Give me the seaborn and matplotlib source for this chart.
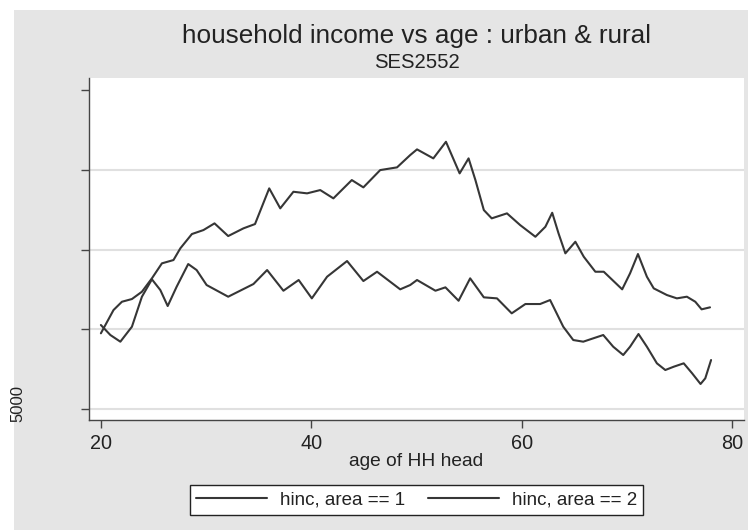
import matplotlib
matplotlib.use("Agg")
import matplotlib.pyplot as plt
import seaborn as sns
import pandas as pd
from matplotlib.patches import Rectangle

# ---- data ----
age_area1 = [20.0, 21.2, 22.0, 22.95, 23.9, 24.85, 25.8, 26.9, 27.55, 28.65, 29.75, 30.8,
             32.1, 33.55, 34.65, 36.0, 37.05, 38.3, 39.6, 40.85, 42.1, 43.85, 44.95, 46.55,
             48.15, 49.4, 50.05, 51.6, 52.8, 54.1, 54.95, 55.6, 56.4, 57.15, 58.6, 59.85,
             61.3, 62.25, 62.9, 63.5, 64.15, 65.1, 65.9, 67.0, 67.8, 69.55, 70.3, 71.05,
             71.9, 72.55, 73.8, 74.75, 75.7, 76.5, 77.1, 77.9]
hinc_area1 = [9747, 11207, 11727, 11897, 12355, 13195, 14135, 14342, 15076, 15973, 16223, 16643,
              15847, 16330, 16600, 18838, 17584, 18625, 18525, 18731, 18211, 19358, 18900, 19985,
              20155, 20926, 21283, 20719, 21760, 19778, 20719, 19358, 17477, 16957, 17270, 16537,
              15803, 16430, 17308, 16016, 14762, 15490, 14549, 13609, 13609, 12505, 13509, 14719,
              13296, 12566, 12148, 11939, 12043, 11727, 11251, 11376]

age_area2 = [20.0, 20.9, 21.85, 22.95, 23.9, 24.85, 25.65, 26.35, 27.2, 28.3, 29.1, 30.05,
             32.1, 34.5, 35.8, 37.35, 38.8, 40.05, 41.5, 43.4, 44.95, 46.25, 48.45, 49.4,
             50.05, 51.8, 52.75, 54.0, 55.1, 56.4, 57.65, 59.05, 60.35, 61.75, 62.7, 63.95,
             64.9, 65.85, 66.8, 67.75, 68.7, 69.65, 70.3, 71.1, 71.9, 72.85, 73.65, 74.45,
             75.4, 76.2, 77.0, 77.45, 78.0]
hinc_area2 = [10267, 9640, 9222, 10161, 12043, 13132, 12461, 11458, 12668, 14092, 13715, 12775,
              12043, 12838, 13715, 12418, 13090, 11939, 13296, 14280, 13026, 13609, 12505, 12775,
              13090, 12418, 12630, 11790, 13195, 12003, 11939, 11000, 11584, 11584, 11834, 10161,
              9326, 9222, 9432, 9640, 8906, 8386, 8906, 9703, 8906, 7865, 7445, 7652,
              7865, 7238, 6568, 6925, 8072]

series_labels = ["hinc, area == 1", "hinc, area == 2"]
x_ticks = [20, 40, 60, 80]
y_ticks = [5000, 10000, 15000, 20000, 25000]
y_grid = [5000, 10000, 15000, 20000]

df = pd.concat([
    pd.DataFrame({"age": age_area1, "hinc": hinc_area1, "series": series_labels[0]}),
    pd.DataFrame({"age": age_area2, "hinc": hinc_area2, "series": series_labels[1]}),
], ignore_index=True)

sns.set_theme(style="white")
plt.rcParams["font.family"] = ["Liberation Sans", "DejaVu Sans"]

W, H = 748, 530
fig = plt.figure(figsize=(W / 100, H / 100), dpi=100)
fig.patch.set_facecolor("white")
# gray graph region
fig.patches.append(Rectangle((14 / W, 0), 1 - 14 / W, 1 - 10 / H, transform=fig.transFigure,
                             facecolor="#e5e5e5", edgecolor="none", zorder=-10))

ax = fig.add_axes([89 / W, (H - 420) / H, (744 - 89) / W, (420 - 78) / H])
ax.set_facecolor("white")

line_col = "#363636"
sns.lineplot(data=df, x="age", y="hinc", hue="series", palette=[line_col, line_col],
             estimator=None, sort=False, linewidth=1.5, ax=ax, legend=True)

ax.set_xlim(18.87, 81.13)
ax.set_ylim(4310, 25760)
ax.set_xticks(x_ticks)
ax.set_xticklabels([str(t) for t in x_ticks])
ax.set_yticks(y_ticks)
ax.set_yticklabels([""] * len(y_ticks))
for g in y_grid:
    ax.axhline(g, color="#e0e0e0", linewidth=1.5, zorder=0)

for s in ["top", "right"]:
    ax.spines[s].set_visible(False)
for s in ["left", "bottom"]:
    ax.spines[s].set_visible(True)
    ax.spines[s].set_color("#444444")
    ax.spines[s].set_linewidth(1.0)

ax.tick_params(axis="both", direction="out", length=6, width=1.0, color="#444444",
               labelsize=14.3, labelcolor="#222222", pad=4, bottom=True, left=True)
ax.set_xlabel("")
ax.set_ylabel("")

fig.text(416.5 / W, 1 - 462 / H, "age of HH head", ha="center", va="center",
         fontsize=13.8, color="#222222")

fig.text(18 / W, 1 - 404 / H, "5000", rotation=90, ha="center", va="center",
         fontsize=12, color="#222222")

fig.text(416.5 / W, 1 - 36 / H, "household income vs age : urban & rural", ha="center",
         va="center", fontsize=18.8, color="#222222")
fig.text(416.5 / W, 1 - 63 / H, "SES2552", ha="center", va="center", fontsize=14.6,
         color="#222222")

handles, labels = ax.get_legend_handles_labels()
ax.get_legend().remove()
leg = fig.legend(handles, labels, loc="center", bbox_to_anchor=(416.5 / W, 1 - 500 / H),
                 ncol=2, fontsize=13.5, frameon=True, fancybox=False, framealpha=1,
                 edgecolor="#222222", facecolor="white", handlelength=3.8,
                 handletextpad=0.65, columnspacing=1.25, borderpad=0.35,
                 borderaxespad=0)
leg.get_frame().set_linewidth(1.0)
for t in leg.get_texts():
    t.set_color("#222222")

fig.savefig("out.png", dpi=100)
